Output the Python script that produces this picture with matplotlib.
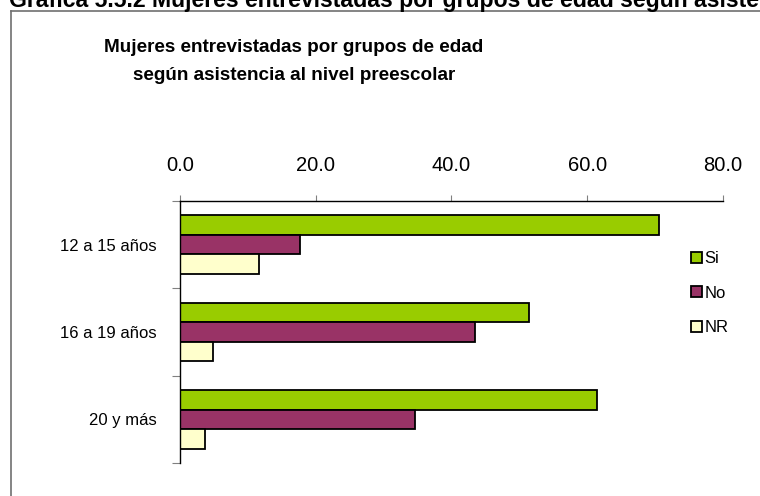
import matplotlib
matplotlib.use("Agg")
import matplotlib.pyplot as plt
import numpy as np
from matplotlib.lines import Line2D

plt.rcParams['font.family'] = ['Liberation Sans', 'DejaVu Sans']

# datos
grupos = ['12 a 15 años', '16 a 19 años', '20 y más']
series = ['Si', 'No', 'NR']
si = [70.5, 51.4, 61.5]
no = [17.7, 43.5, 34.6]
nr = [11.7, 4.9, 3.7]
colores = ['#99CC00', '#993366', '#FFFFCC']
xticks = [0, 20, 40, 60, 80]

W, H = 760, 496
fig = plt.figure(figsize=(W / 100, H / 100), dpi=100)
ax = fig.add_axes([180 / W, 1 - 463 / H, (723 - 180) / W, (463 - 201) / H])

y = np.arange(len(grupos))
h = 0.223
for k, (vals, lab, col) in enumerate(zip([si, no, nr], series, colores)):
    ax.barh(y + (k - 1) * h, vals, height=h, color=col, edgecolor='black',
            linewidth=1.3, label=lab)

ax.set_xlim(0, 80)
ax.set_ylim(len(grupos) - 0.5, -0.5)
ax.xaxis.tick_top()
ax.set_xticks(xticks)
ax.set_xticklabels([f'{v:.1f}' for v in xticks])
ax.tick_params(axis='x', direction='out', length=4, width=0.8, pad=14.5,
               labelsize=14.5, color='#808080')

ax.set_yticks(np.arange(len(grupos) + 1) - 0.5)
ax.set_yticklabels([])
ax.set_yticks(y, minor=True)
ax.set_yticklabels(grupos, minor=True)
ax.tick_params(axis='y', which='major', direction='out', length=6, width=0.8,
               color='#808080')
ax.tick_params(axis='y', which='minor', length=0, pad=16.5, labelsize=12)

for s in ['right', 'bottom']:
    ax.spines[s].set_visible(False)
for s in ['top', 'left']:
    ax.spines[s].set_linewidth(1.0)
    ax.spines[s].set_color('black')

leg = ax.legend(loc='upper left', bbox_to_anchor=(691 / W, 1 - 251 / H),
                bbox_transform=fig.transFigure, frameon=False, fontsize=12,
                handlelength=0.65, handleheight=0.65, handletextpad=0.15,
                labelspacing=1.17, borderaxespad=0, borderpad=0)

fig.text(294 / W, 1 - 52 / H, 'Mujeres entrevistadas por grupos de edad',
         ha='center', va='baseline', fontsize=13.6, fontweight='bold')
fig.text(294 / W, 1 - 80 / H, 'según asistencia al nivel preescolar',
         ha='center', va='baseline', fontsize=13.6, fontweight='bold')

# encabezado cortado arriba
fig.text(9 / W, 1 - 7 / H,
         'Gráfica 5.5.2 Mujeres entrevistadas por grupos de edad según asistencia al nivel preescolar',
         ha='left', va='baseline', fontsize=16.6, fontweight='bold')

# marco del área del gráfico
fig.add_artist(Line2D([10.5 / W, 10.5 / W], [0, 1 - 10.5 / H], color='#707070', lw=1.2))
fig.add_artist(Line2D([10.5 / W, 1], [1 - 10.5 / H, 1 - 10.5 / H], color='#707070', lw=1.2))

fig.savefig('out.png', dpi=100)
